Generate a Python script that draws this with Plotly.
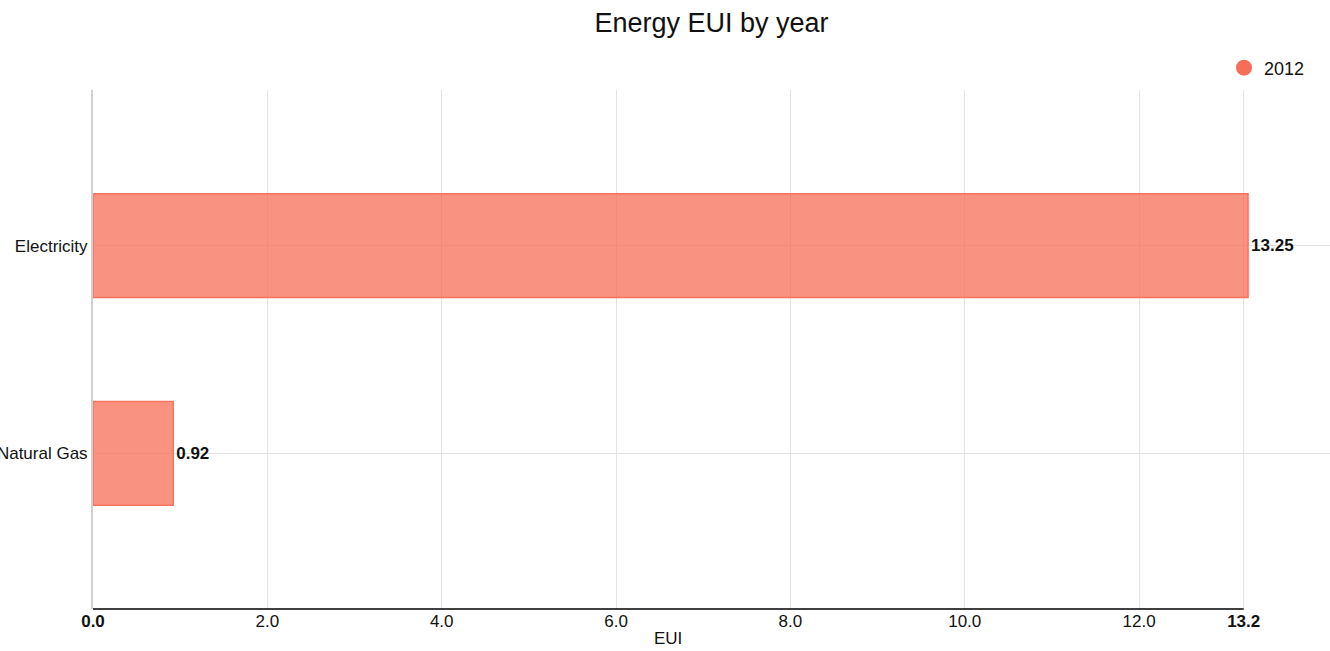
import plotly.graph_objects as go

categories = ["Natural Gas", "Electricity"]
values = [0.92, 13.25]
value_labels = ["0.92", "13.25"]
series_name = "2012"
tick_vals = [0, 2, 4, 6, 8, 10, 12, 13.2]
tick_text = ["<b>0.0</b>", "2.0", "4.0", "6.0", "8.0", "10.0", "12.0", "<b>13.2</b>"]

fill = "rgba(248,110,88,0.75)"
edge = "rgb(248,115,94)"
font = "Liberation Sans, Arial, sans-serif"

fig = go.Figure()
fig.add_trace(go.Bar(
    y=categories, x=values, orientation="h", width=0.5,
    marker=dict(color=fill, line=dict(color=edge, width=1.5)),
    text=["<b>%s</b>" % t for t in value_labels], textposition="outside",
    textfont=dict(size=17, color="#111", family=font),
    cliponaxis=False, showlegend=False, name=series_name,
))
fig.add_trace(go.Scatter(
    x=[None], y=[None], mode="markers", name=series_name,
    marker=dict(symbol="circle", size=16, color="rgb(247,110,88)"),
))

fig.add_shape(type="line", xref="x", yref="paper", x0=0, x1=13.2, y0=0, y1=0,
              line=dict(color="#000", width=1.5))

fig.add_annotation(text="EUI", xref="paper", yref="paper", x=(668 - 93) / 1237, y=-0.057,
                   showarrow=False, xanchor="center", yanchor="middle",
                   font=dict(size=17, color="#111", family=font))

fig.update_layout(
    width=1330, height=651,
    margin=dict(l=93, r=0, t=90, b=42, autoexpand=False),
    paper_bgcolor="white", plot_bgcolor="white",
    font=dict(family=font, size=17, color="#111"),
    title=dict(text="Energy EUI by year", x=0.5, xref="paper", y=0.965, yanchor="middle",
               font=dict(size=27, color="#111", family=font)),
    legend=dict(x=1224 / 1330, xref="container", xanchor="left", y=(651 - 68) / 651, yref="container",
                yanchor="middle", font=dict(size=18), itemwidth=30, bgcolor="rgba(0,0,0,0)"),
    xaxis=dict(range=[0, 14.19], tickvals=tick_vals, ticktext=tick_text, automargin=False,
               showgrid=True, gridcolor="#e3e3e3", gridwidth=1, zeroline=False,
               showline=False, ticks="", tickfont=dict(size=17, color="#111")),
    yaxis=dict(range=[-0.75, 1.75], showgrid=True, gridcolor="#e3e3e3", gridwidth=1,
               automargin=False, ticklabelstandoff=0,
               showline=True, linecolor="#d0d0d0", linewidth=2, zeroline=False,
               ticks="", tickfont=dict(size=17, color="#111")),
)

fig.write_html("out.html", config={"displayModeBar": False},
               post_script="document.body.style.margin='0';document.body.style.overflow='hidden';")
